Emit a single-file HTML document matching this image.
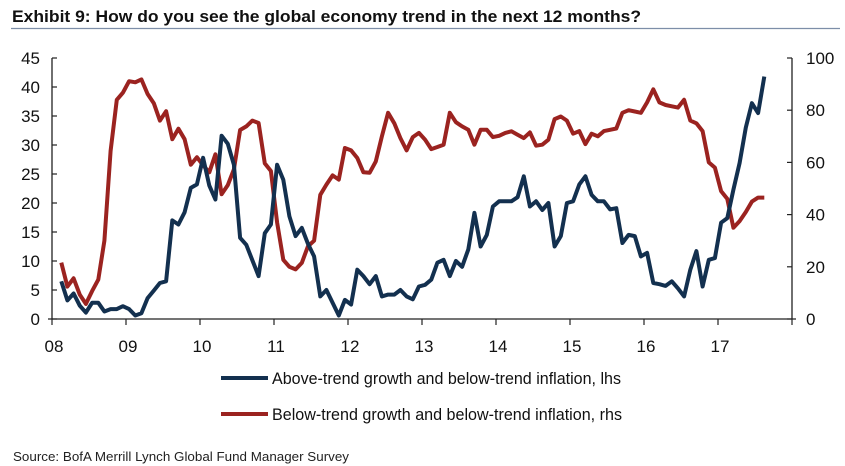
<!DOCTYPE html>
<html><head><meta charset="utf-8"><style>
body{margin:0;background:#fff;width:845px;height:466px;overflow:hidden;font-family:"Liberation Sans",Arial,sans-serif}
svg{display:block}
</style></head><body>
<svg id="c" width="845" height="466">
<text x="12" y="22" font-size="17" font-weight="bold" fill="#111" textLength="629" lengthAdjust="spacingAndGlyphs">Exhibit 9: How do you see the global economy trend in the next 12 months?</text>
<line x1="11" y1="28.5" x2="840" y2="28.5" stroke="#7d8ea8" stroke-width="1.2"/>
<g id="axes"></g><g id="series"></g>
<line x1="221" y1="378" x2="268" y2="378" stroke="#13304f" stroke-width="4"/>
<text x="272" y="384" font-size="17" fill="#111" textLength="349" lengthAdjust="spacingAndGlyphs">Above-trend growth and below-trend inflation, lhs</text>
<line x1="221" y1="414" x2="268" y2="414" stroke="#9b2320" stroke-width="4"/>
<text x="272" y="420" font-size="17" fill="#111" textLength="350" lengthAdjust="spacingAndGlyphs">Below-trend growth and below-trend inflation, rhs</text>
<text x="13" y="461" font-size="13" fill="#222" textLength="336" lengthAdjust="spacingAndGlyphs">Source: BofA Merrill Lynch Global Fund Manager Survey</text>
</svg>
<script>
const yearLabels=["08","09","10","11","12","13","14","15","16","17"];
const leftTicks=[0,5,10,15,20,25,30,35,40,45];
const rightTicks=[0,20,40,60,80,100];
// monthly, Feb 2008 .. Aug 2017
const aboveTrend=[6.5,3.2,4.4,2.3,1.1,2.8,2.8,1.3,1.7,1.7,2.2,
1.7,0.6,1,3.6,4.9,6.2,6.5,17,16.3,18.4,22.6,23.2,
27.8,23,20.6,31.6,30.2,26.6,14,12.8,10.1,7.4,14.8,16.3,
26.6,24,17.7,14.3,15.7,13,10.8,3.9,5,2.8,0.6,3.3,
2.5,8.5,7.4,6,7.4,3.9,4.2,4.2,5,3.9,3.4,5.6,
5.9,6.8,9.7,10.2,7.4,10,9,12,18.3,12.5,14.5,19.4,
20.3,20.3,20.3,21,24.6,19.4,20.3,18.8,20,12.5,14.3,20,
20.3,23.2,24.6,21.4,20.3,20.3,18.9,19.1,13.1,14.5,14.3,10.8,
11.4,6.2,6,5.7,6.5,5.3,3.9,8.5,11.7,5.6,10.2,10.5,
16.6,17.4,22.3,26.9,33,37.2,35.5,41.8];
const belowTrend=[21.6,12.4,15.6,9.3,5.8,10.7,15.1,30,64.4,84,86.7,
91.1,90.7,91.8,86.2,82.7,76,79.6,68.9,72.9,68.9,59.1,62,
58.9,56.2,63.1,47.8,51.3,57.3,72.4,73.8,76,75.1,59.6,56.7,
37,22.7,20,19,21.5,27.8,30,47.6,51.5,55,53.4,65.5,
64.6,61.7,56.2,56,60.4,70,79,75,69.3,64.6,69.7,71.3,
68.7,65.1,65.9,66.8,79,75.4,73.8,72.5,66.8,72.5,72.5,69.7,
70.2,71.3,71.9,70.6,69.3,71.5,66.4,66.8,68.7,76.6,77.6,76,
71,72,67,71,70,72,72.5,73,79,80,79.5,79,
83,88,83,82,81.5,81,84,76,75,72,60,58,
49,46,35,37.5,41,45,46.5,46.5];
const startMonth=1;
const NS="http://www.w3.org/2000/svg";
const X0=52,X1=792,Y0=319,Y1=58;
const xMonth=m=>X0+(X1-X0)*(m+0.5)/120;
const xYear=i=>X0+(X1-X0)*i/10;
const yL=v=>Y0-(Y0-Y1)*v/45;
const yR=v=>Y0-(Y0-Y1)*v/100;
const ax=document.getElementById('axes'),se=document.getElementById('series');
function mk(t,a,p){const e=document.createElementNS(NS,t);for(const k in a)e.setAttribute(k,a[k]);p.appendChild(e);return e;}
let e;
e=mk('line',{x1:X0,y1:Y1,x2:X0,y2:Y0,stroke:'#222','stroke-width':1.3},ax);


e=mk('line',{x1:X1,y1:Y1,x2:X1,y2:Y0,stroke:'#222','stroke-width':1.3},ax);


e=mk('line',{x1:X0-4,y1:Y0,x2:X1+4,y2:Y0,stroke:'#222','stroke-width':1.3},ax);


leftTicks.forEach(v=>{
 mk('line',{x1:X0,y1:yL(v),x2:X0+5,y2:yL(v),stroke:'#222','stroke-width':1.2},ax);
 e=mk('text',{x:40,y:yL(v)+6,'text-anchor':'end','font-size':17,fill:'#111'},ax);e.textContent=v;
 
 
});
rightTicks.forEach(v=>{
 mk('line',{x1:X1-5,y1:yR(v),x2:X1,y2:yR(v),stroke:'#222','stroke-width':1.2},ax);
 e=mk('text',{x:806,y:yR(v)+6,'font-size':17,fill:'#111'},ax);e.textContent=v;
 
 
});
for(let i=0;i<=10;i++){mk('line',{x1:xYear(i),y1:Y0,x2:xYear(i),y2:Y0+6,stroke:'#222','stroke-width':1.2},ax);}
yearLabels.forEach((s,i)=>{
 e=mk('text',{x:xYear(i)+2,y:Y0+33,'text-anchor':'middle','font-size':17,fill:'#111'},ax);e.textContent=s;
 
 
});
function line(vals,yf){return vals.map((v,i)=>xMonth(startMonth+i).toFixed(1)+','+yf(v).toFixed(1)).join(' ');}
e=mk('polyline',{points:line(belowTrend,yR),fill:'none',stroke:'#9b2320','stroke-width':4,'stroke-linejoin':'round'},se);


e=mk('polyline',{points:line(aboveTrend,yL),fill:'none',stroke:'#13304f','stroke-width':4,'stroke-linejoin':'round'},se);


</script>
</body></html>
